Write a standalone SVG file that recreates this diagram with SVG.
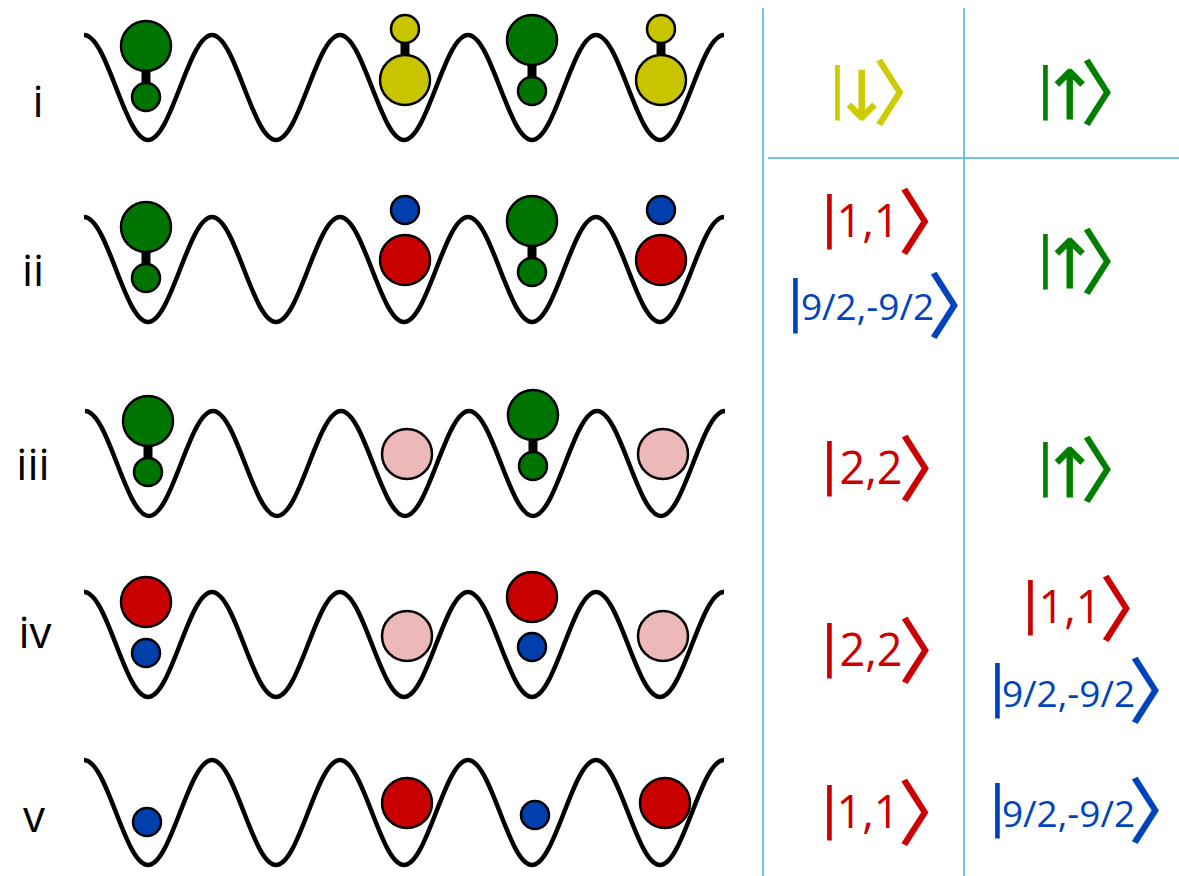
<svg xmlns="http://www.w3.org/2000/svg" xmlns:xlink="http://www.w3.org/1999/xlink" width="1179" height="876" viewBox="0 0 1179 876">
<style>
  .wave{fill:none;stroke:#000;stroke-width:4.5}
  .atom{stroke:#000;stroke-width:2.5}
  .g{fill:#007400}.y{fill:#c9c400}.r{fill:#c80000}.b{fill:#003fac}.p{fill:#edb8b8}
  .link{fill:#000}
  .grid{stroke:#3fb4d4;stroke-width:1.5}
  .lbl{font-family:"Open Sans",sans-serif;font-size:44px;text-anchor:middle;fill:#000}
  .ket{text-anchor:middle}
  .bar{font-family:"DejaVu Sans",sans-serif;font-size:56px;text-anchor:start;letter-spacing:-14px}
  .num{font-family:"Open Sans",sans-serif;font-size:45px}
  .sm{font-size:37px}
  .arw{font-family:"DejaVu Sans",sans-serif;font-size:68px;stroke-width:0.8;text-anchor:start;letter-spacing:-40px}
  .br{font-family:"Noto Sans CJK JP","DejaVu Sans",sans-serif;font-size:70px;stroke-width:1.4;text-anchor:start;font-feature-settings:"palt"}
  .ky{fill:#cccc00}.kg{fill:#007f00}.kr{fill:#cc0000}.kb{fill:#0044bb}
  .ky .br,.ky .arw{stroke:#cccc00}.kg .br,.kg .arw{stroke:#007f00}.kr .br{stroke:#cc0000}.kb .br{stroke:#0044bb}
</style>
<defs>
  <!-- one row of the lattice potential: five periods of a cosine -->
  <path id="wave" class="wave" d="M84,0 C107.3,0 124.7,105 148,105 S188.7,0 212,0 S252.7,105 276,105 S316.7,0 340,0 S380.7,105 404,105 S444.7,0 468,0 S508.7,105 532,105 S572.7,0 596,0 S636.7,105 660,105 S700.7,0 724,0"/>
</defs>
<rect width="1179" height="876" fill="#fff"/>

<!-- table rules -->
<g id="table" class="grid">
  <line x1="763" y1="8" x2="763" y2="876"/>
  <line x1="964" y1="8" x2="964" y2="876"/>
  <line x1="768" y1="158" x2="1179" y2="158"/>
</g>

<!-- row labels -->
<g id="labels">
  <text class="lbl" x="38" y="117">i</text>
  <text class="lbl" x="33" y="286">ii</text>
  <text class="lbl" x="33" y="480">iii</text>
  <text class="lbl" x="35" y="648">iv</text>
  <text class="lbl" x="34" y="832">v</text>
</g>

<!-- potentials -->
<g id="lattices">
  <use xlink:href="#wave" transform="translate(0,35)"/>
  <use xlink:href="#wave" transform="translate(0,217)"/>
  <use xlink:href="#wave" transform="translate(1,411)"/>
  <use xlink:href="#wave" transform="translate(0,592)"/>
  <use xlink:href="#wave" transform="translate(0,760)"/>
</g>

<!-- row i -->
<g id="row-i">
  <g id="i-1"><rect class="link" x="141.5" y="68" width="9" height="18"/><circle class="atom g" cx="146" cy="46" r="25"/><circle class="atom g" cx="146" cy="97" r="14"/></g>
  <g id="i-2"><rect class="link" x="400.5" y="40" width="9" height="18"/><circle class="atom y" cx="405" cy="29" r="14"/><circle class="atom y" cx="405" cy="80" r="25"/></g>
  <g id="i-3"><rect class="link" x="527.5" y="62" width="9" height="18"/><circle class="atom g" cx="532" cy="40" r="25"/><circle class="atom g" cx="532" cy="91" r="14"/></g>
  <g id="i-4"><rect class="link" x="656.5" y="40" width="9" height="18"/><circle class="atom y" cx="661" cy="29" r="14"/><circle class="atom y" cx="661" cy="80" r="25"/></g>
</g>

<!-- row ii -->
<g id="row-ii">
  <g id="ii-1"><rect class="link" x="141.5" y="249" width="9" height="18"/><circle class="atom g" cx="146" cy="227" r="25"/><circle class="atom g" cx="146" cy="278" r="14"/></g>
  <g id="ii-2"><circle class="atom b" cx="405" cy="210" r="14"/><circle class="atom r" cx="405" cy="260" r="25"/></g>
  <g id="ii-3"><rect class="link" x="527.5" y="243" width="9" height="18"/><circle class="atom g" cx="532" cy="221" r="25"/><circle class="atom g" cx="532" cy="272" r="14"/></g>
  <g id="ii-4"><circle class="atom b" cx="661" cy="210" r="14"/><circle class="atom r" cx="661" cy="260" r="25"/></g>
</g>

<!-- row iii -->
<g id="row-iii">
  <g id="iii-1"><rect class="link" x="143.5" y="443" width="9" height="18"/><circle class="atom g" cx="148" cy="421" r="25"/><circle class="atom g" cx="148" cy="472" r="14"/></g>
  <g id="iii-2"><circle class="atom p" cx="407" cy="454" r="25"/></g>
  <g id="iii-3"><rect class="link" x="528.5" y="437" width="9" height="18"/><circle class="atom g" cx="533" cy="415" r="25"/><circle class="atom g" cx="533" cy="466" r="14"/></g>
  <g id="iii-4"><circle class="atom p" cx="663" cy="454" r="25"/></g>
</g>

<!-- row iv -->
<g id="row-iv">
  <g id="iv-1"><circle class="atom r" cx="146" cy="602" r="25"/><circle class="atom b" cx="146" cy="653" r="14"/></g>
  <g id="iv-2"><circle class="atom p" cx="407" cy="636" r="25"/></g>
  <g id="iv-3"><circle class="atom r" cx="532" cy="597" r="25"/><circle class="atom b" cx="532" cy="647" r="14"/></g>
  <g id="iv-4"><circle class="atom p" cx="663" cy="636" r="25"/></g>
</g>

<!-- row v -->
<g id="row-v">
  <g id="v-1"><circle class="atom b" cx="147" cy="822" r="14"/></g>
  <g id="v-2"><circle class="atom r" cx="407" cy="803" r="25"/></g>
  <g id="v-3"><circle class="atom b" cx="535" cy="815" r="14"/></g>
  <g id="v-4"><circle class="atom r" cx="665" cy="803" r="25"/></g>
</g>

<!-- state kets -->
<g id="kets">
  <text id="ket-i-a" class="ket ky"><tspan class="bar" x="828.07" y="107">|</tspan><tspan class="arw" x="833.5" y="119.5">↓</tspan><tspan class="br" x="875.5" y="119">〉</tspan></text>
  <text id="ket-i-b" class="ket kg"><tspan class="bar" x="1036.07" y="107">|</tspan><tspan class="arw" x="1041.5" y="118.5">↑</tspan><tspan class="br" x="1083" y="119">〉</tspan></text>

  <text id="ket-ii-a" class="ket kr"><tspan class="bar" x="820.07" y="236">|</tspan><tspan class="num" x="868" y="237">1,1</tspan><tspan class="br" x="900.5" y="248">〉</tspan></text>
  <text id="ket-ii-b" class="ket kb"><tspan class="bar" x="786.07" y="320">|</tspan><tspan class="num sm" x="867.5" y="320">9/2,-9/2</tspan><tspan class="br" x="930" y="332">〉</tspan></text>
  <text id="ket-ii-c" class="ket kg"><tspan class="bar" x="1036.07" y="276">|</tspan><tspan class="arw" x="1041.5" y="288">↑</tspan><tspan class="br" x="1083" y="288">〉</tspan></text>

  <text id="ket-iii-a" class="ket kr"><tspan class="bar" x="820.07" y="483">|</tspan><tspan class="num" x="871" y="484">2,2</tspan><tspan class="br" x="901" y="495">〉</tspan></text>
  <text id="ket-iii-b" class="ket kg"><tspan class="bar" x="1036.07" y="484">|</tspan><tspan class="arw" x="1041.5" y="497">↑</tspan><tspan class="br" x="1083" y="496">〉</tspan></text>

  <text id="ket-iv-a" class="ket kr"><tspan class="bar" x="820.07" y="665">|</tspan><tspan class="num" x="871" y="666">2,2</tspan><tspan class="br" x="901" y="677">〉</tspan></text>
  <text id="ket-iv-b" class="ket kr"><tspan class="bar" x="1021.07" y="622">|</tspan><tspan class="num" x="1070" y="623">1,1</tspan><tspan class="br" x="1102" y="635">〉</tspan></text>
  <text id="ket-iv-c" class="ket kb"><tspan class="bar" x="988.07" y="705">|</tspan><tspan class="num sm" x="1068.5" y="707">9/2,-9/2</tspan><tspan class="br" x="1131" y="717">〉</tspan></text>

  <text id="ket-v-a" class="ket kr"><tspan class="bar" x="820.07" y="827">|</tspan><tspan class="num" x="868" y="828">1,1</tspan><tspan class="br" x="900.5" y="839">〉</tspan></text>
  <text id="ket-v-b" class="ket kb"><tspan class="bar" x="988.07" y="825">|</tspan><tspan class="num sm" x="1068.5" y="827">9/2,-9/2</tspan><tspan class="br" x="1131" y="837">〉</tspan></text>
</g>
</svg>
